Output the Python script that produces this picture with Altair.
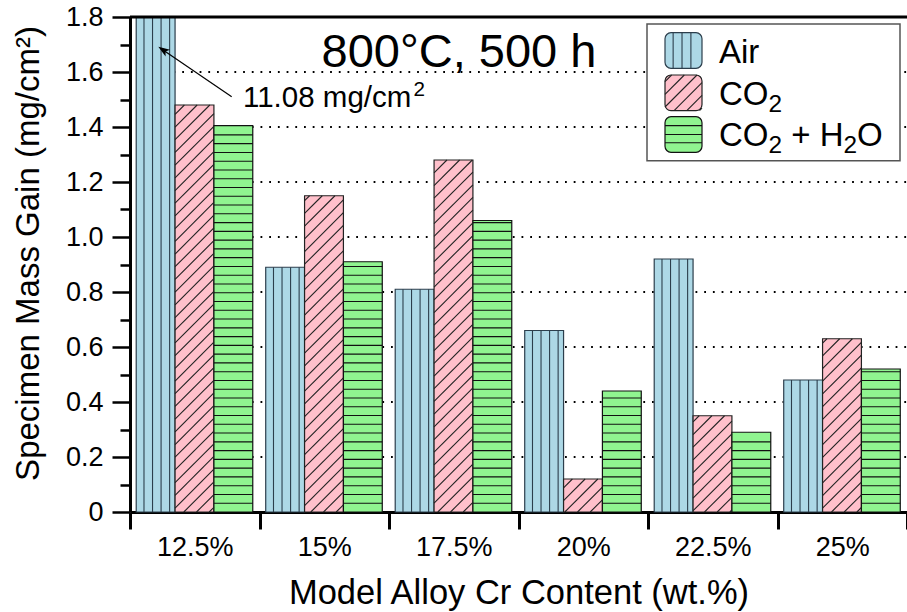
import altair as alt
import pandas as pd

# ---------------- data ----------------
groups = ["12.5%", "15%", "17.5%", "20%", "22.5%", "25%"]
series = ["Air", "CO₂", "CO₂ + H₂O"]
air = [11.08, 0.89, 0.81, 0.66, 0.92, 0.48]
co2 = [1.48, 1.15, 1.28, 0.12, 0.35, 0.63]
co2_h2o = [1.405, 0.91, 1.06, 0.44, 0.29, 0.52]
fills = ["#ADD8E6", "#FFC0CB", "#90F490"]
edges = ["#2C3E4C", "#222222", "#111111"]
grid_values = [0.2, 0.4, 0.6, 0.8, 1.0, 1.2, 1.4, 1.6]
title_text = "800°C, 500 h"
annotation_value = "11.08"
annotation_unit = "mg/cm"
x_title = "Model Alloy Cr Content (wt.%)"
y_title = "Specimen Mass Gain (mg/cm²)"
# legend label pieces: (text, kind) kind: n normal, s subscript, g gap (space)
legend_pieces = [
    [("Air", "n")],
    [("CO", "n"), ("2", "s")],
    [("CO", "n"), ("2", "s"), (" ", "g"), ("+", "n"), (" ", "g"), ("H", "n"), ("2", "s"), ("O", "n")],
]

# ---------------- geometry helpers ----------------
W, H = 777, 495
Y_MAX = 1.8
N = len(groups)
PXX = W / N          # pixels per x unit
PXY = H / Y_MAX      # pixels per y unit
BAR_W = 0.3
BAR_OFF = 0.048
FONT = "Liberation Sans"

# Arial / Liberation Sans advance widths (em)
ADV = {"A": .667, "i": .222, "r": .333, "C": .722, "O": .778, "H": .722, " ": .278,
       "+": .584, "2": .556, "1": .556, "0": .556, "8": .556, ".": .278, "m": .833,
       "g": .556, "/": .278, "c": .5}


def text_w(s, size):
    return sum(ADV.get(ch, 0.556) for ch in s) * size


def rx(px):  # plot-relative pixel -> data x
    return px / PXX


def ry(py):  # plot-relative pixel (from top) -> data y
    return Y_MAX - py / PXY


def hatch_lines(x0, x1, y0, y1, kind, color, legend=False):
    out = []
    if kind == "v":
        fr = [0.22, 0.46, 0.70] if legend else [0.2, 0.42, 0.64, 0.86]
        for f in fr:
            xx = x0 + f * (x1 - x0)
            out.append(dict(x=xx, x2=xx, y=y0, y2=y1, c=color))
    elif kind == "h":
        if legend:
            for f in [0.27, 0.5, 0.75]:
                yy = y0 + f * (y1 - y0)
                out.append(dict(x=x0, x2=x1, y=yy, y2=yy, c=color))
        else:
            step = 8.77 / PXY
            k = 1
            while k * step < y1 - 1.5 / PXY:
                out.append(dict(x=x0, x2=x1, y=k * step, y2=k * step, c=color))
                k += 1
    else:  # diagonal "/"
        sp = 12.7
        ua, ub = x0 * PXX, x1 * PXX
        ha, hb = y0 * PXY, y1 * PXY
        k = int((ua - hb) // sp) - 1
        while k * sp < ub - ha:
            cc = k * sp + 3.0
            hl = max(ha, ua - cc)
            ul = hl + cc
            hu = min(hb, ub - cc)
            uu = hu + cc
            if hu - hl > 0.8 and ul < ub and uu > ua:
                out.append(dict(x=ul / PXX, x2=uu / PXX, y=hl / PXY, y2=hu / PXY, c=color))
            k += 1
    return out


kinds = ["v", "d", "h"]
bar_rows, hatch_rows, leg_hatch_rows = [], [], []
for gi in range(N):
    for si, vals in enumerate([air, co2, co2_h2o]):
        v = min(vals[gi], Y_MAX)
        x0 = gi + BAR_OFF + si * BAR_W
        x1 = x0 + BAR_W
        bar_rows.append(dict(x=x0, x2=x1, y=0.0, y2=v, fill=fills[si], edge=edges[si],
                             group=groups[gi], series=series[si], value=vals[gi]))
        hatch_rows += hatch_lines(x0, x1, 0.0, v, kinds[si], edges[si])

# legend (plot-relative pixel layout converted to data units)
leg_box = pd.DataFrame([dict(x=rx(517), x2=rx(770), y=ry(7), y2=ry(143.7))])
sym_tops = [15.7, 58.0, 99.7]
base_px = [46.3, 88.0, 129.0]
LEG_F = 33
SUB_F = 0.74 * LEG_F
leg_rows, leg_text = [], []
for si in range(3):
    sx0, sx1 = rx(535), rx(572)
    sy0, sy1 = ry(sym_tops[si] + 35.6), ry(sym_tops[si])
    leg_rows.append(dict(x=sx0, x2=sx1, y=sy0, y2=sy1, fill=fills[si], edge=edges[si]))
    leg_hatch_rows += hatch_lines(sx0, sx1, sy0, sy1, kinds[si], edges[si], legend=True)
    cx = 589.0
    for txt, kind in legend_pieces[si]:
        fs = SUB_F if kind == "s" else LEG_F
        if kind != "g":
            by = base_px[si] + (7.0 if kind == "s" else 0.0)
            leg_text.append(dict(x=rx(cx), y=ry(by), t=txt, fs=fs))
        cx += text_w(txt, fs)

bars_df = pd.DataFrame(bar_rows)
hatch_df = pd.DataFrame(hatch_rows)
leghatch_df = pd.DataFrame(leg_hatch_rows)
leg_df = pd.DataFrame(leg_rows)
legtext_df = pd.DataFrame(leg_text)
grid_df = pd.DataFrame(dict(y=grid_values, x=[0.0] * len(grid_values), x2=[float(N)] * len(grid_values)))
top_df = pd.DataFrame(dict(y=[Y_MAX], x=[0.0], x2=[float(N)]))

arrow_df = pd.DataFrame([dict(x=rx(101.7), y=ry(79.7), x2=rx(30.5), y2=ry(31.3))])
tip_df = pd.DataFrame([dict(x=rx(28.3), y=ry(29.7))])
ANN_F = 29.5
ann_rows = [dict(x=rx(113), y=ry(90.3), t=annotation_value + " " + annotation_unit, fs=ANN_F)]
ann_rows.append(dict(x=rx(113 + text_w(annotation_value + " " + annotation_unit, ANN_F)),
                     y=ry(90.3 - 11.5), t="2", fs=0.7 * ANN_F))
ann_df = pd.DataFrame(ann_rows)
title_df = pd.DataFrame([dict(x=rx(329), y=ry(50), t=title_text)])

# ---------------- scales / axes ----------------
xs = alt.Scale(domain=[0, N], nice=False, zero=False)
ys = alt.Scale(domain=[0, Y_MAX], nice=False, zero=False)

x_vals = [i * 0.5 for i in range(2 * N + 1)]
lab_arr = "[" + ",".join("'" + g + "'" for g in groups) + "]"
x_axis = alt.Axis(
    values=x_vals,
    title=x_title,
    labelExpr=f"(datum.value % 1) > 0.25 ? {lab_arr}[floor(datum.value)] : ''",
    tickSize=17,
    tickOpacity={"condition": {"test": "(datum.value % 1) < 0.25", "value": 1}, "value": 0},
    tickWidth=3,
    domainWidth=3,
    labelFontSize=27,
    labelPadding=5,
    labelBaseline="top",
    titleFontSize=34.5,
    titleY=91,
    titleBaseline="alphabetic",
    grid=False,
    labelFlush=False,
    labelOverlap=False,
)
y_vals = [round(i * 0.1, 1) for i in range(19)]
major = "abs(datum.value*5 - round(datum.value*5)) < 0.001"
y_axis = alt.Axis(
    values=y_vals,
    title=y_title,
    labelExpr=f"{major} ? (datum.value < 0.001 ? '0' : format(datum.value, '.1f')) : ''",
    tickSize={"condition": {"test": major, "value": 18}, "value": 10},
    tickWidth=2.5,
    domainWidth=3,
    labelFontSize=27,
    labelPadding=9,
    titleFontSize=33,
    titleX=-102,
    titleY=236,
    titleBaseline="middle",
    grid=False,
    labelOverlap=False,
    labelFlush=False,
)

X = lambda f="x": alt.X(f"{f}:Q", scale=xs, axis=x_axis)
Y = lambda f="y": alt.Y(f"{f}:Q", scale=ys, axis=y_axis)

grid = alt.Chart(grid_df).mark_rule(color="black", strokeWidth=1.8, strokeDash=[1.8, 6.9]).encode(
    x=X(), x2="x2:Q", y=Y())
bars = alt.Chart(bars_df).mark_rect(strokeWidth=1.2).encode(
    x=X(), x2="x2:Q", y=Y(), y2="y2:Q",
    fill=alt.Fill("fill:N", scale=None), stroke=alt.Stroke("edge:N", scale=None),
    tooltip=["group:N", "series:N", "value:Q"])
hatch = alt.Chart(hatch_df).mark_rule(strokeWidth=1.1).encode(
    x=X(), x2="x2:Q", y=Y(), y2="y2:Q", color=alt.Color("c:N", scale=None))
legbox = alt.Chart(leg_box).mark_rect(fill="white", stroke="#555555", strokeWidth=1.5).encode(
    x=X(), x2="x2:Q", y=Y(), y2="y2:Q")
legsym = alt.Chart(leg_df).mark_rect(cornerRadius=6, strokeWidth=1.2).encode(
    x=X(), x2="x2:Q", y=Y(), y2="y2:Q",
    fill=alt.Fill("fill:N", scale=None), stroke=alt.Stroke("edge:N", scale=None))
leghatch = alt.Chart(leghatch_df).mark_rule(strokeWidth=1.1).encode(
    x=X(), x2="x2:Q", y=Y(), y2="y2:Q", color=alt.Color("c:N", scale=None))
topline = alt.Chart(top_df).mark_rule(color="black", strokeWidth=3).encode(
    x=X(), x2="x2:Q", y=Y())
arrow = alt.Chart(arrow_df).mark_rule(color="black", strokeWidth=1.2).encode(
    x=X(), x2="x2:Q", y=Y(), y2="y2:Q")
tip = alt.Chart(tip_df).mark_point(
    shape="M0,0 L-0.8,2.3 L0,1.75 L0.8,2.3 Z", filled=True, color="black", opacity=1,
    size=100, angle=304).encode(x=X(), y=Y())
ann = alt.Chart(ann_df).mark_text(align="left", baseline="alphabetic", font=FONT,
                                  color="black").encode(
    x=X(), y=Y(), text="t:N", size=alt.Size("fs:Q", scale=None))
ttl = alt.Chart(title_df).mark_text(align="center", baseline="alphabetic", fontSize=47, font=FONT,
                                    color="black").encode(x=X(), y=Y(), text="t:N")
legtxt = alt.Chart(legtext_df).mark_text(align="left", baseline="alphabetic", font=FONT,
                                         color="black").encode(
    x=X(), y=Y(), text="t:N", size=alt.Size("fs:Q", scale=None))

chart = alt.layer(grid, bars, hatch, topline, arrow, tip, ann, ttl, legbox, legsym,
                  leghatch, legtxt).properties(
    width=W, height=H,
    autosize=alt.AutoSizeParams(type="none"),
    padding={"left": 130, "top": 17, "right": 0, "bottom": 100},
).configure_view(stroke=None).configure_axis(
    labelFont=FONT, titleFont=FONT, labelColor="black", titleColor="black",
    domainColor="black", tickColor="black", titleFontWeight="normal",
)

chart.save("out.html", embed_options={"renderer": "svg", "actions": False})
